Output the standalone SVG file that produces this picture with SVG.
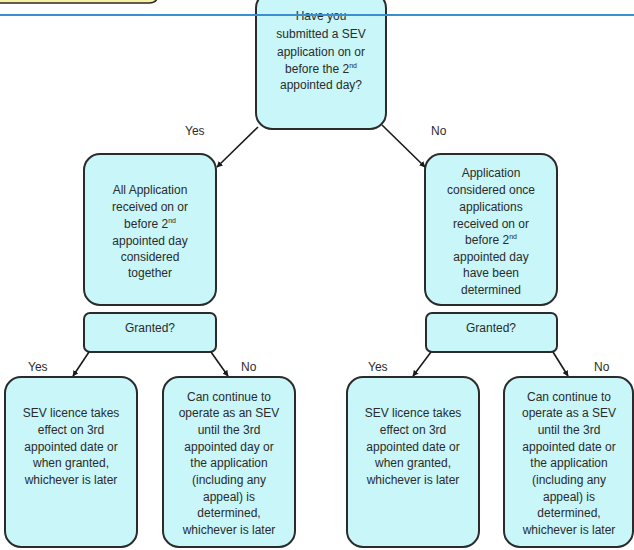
<svg xmlns="http://www.w3.org/2000/svg" width="634" height="550" viewBox="0 0 634 550">
<style>
.box{fill:#c8f6f9;stroke:#2b2b2b;stroke-width:2}
.t{font-family:"Liberation Sans",Arial,sans-serif;font-size:12px;fill:#2b2b2b;text-anchor:middle}
.sup{font-size:7px}
.lbl{font-family:"Liberation Sans",Arial,sans-serif;font-size:12px;fill:#2b2b2b}
.conn{stroke:#1a1a1a;stroke-width:1.6;fill:none;marker-end:url(#ah)}
</style>
<defs>
<marker id="ah" viewBox="0 0 10 10" refX="9" refY="5" markerWidth="6" markerHeight="6" orient="auto" markerUnits="userSpaceOnUse">
<path d="M0,0 L10,5 L0,10 Z" fill="#1a1a1a"/>
</marker>
</defs>
<rect width="634" height="550" fill="#ffffff"/>
<g id="banner">
<path d="M-2,-20 H158 V-6 Q158,3 149,3 H-2 Z" fill="#f6f1a3" stroke="#2b2b2b" stroke-width="1.5"/>
</g>
<g id="q1">
<rect class="box" x="256" y="-8" width="130" height="137" rx="16"/>
<text class="t" x="321" y="20">Have you</text>
<text class="t" x="321" y="38">submitted a SEV</text>
<text class="t" x="321" y="56">application on or</text>
<text class="t" x="321" y="73">before the 2<tspan class="sup" dy="-5">nd</tspan></text>
<text class="t" x="321" y="89">appointed day?</text>
</g>
<line x1="0" y1="15" x2="634" y2="15" stroke="#3a8fd0" stroke-width="2.2"/>
<g id="left">
<rect class="box" x="84" y="154" width="132" height="151" rx="16"/>
<text class="t" x="150" y="194">All Application</text>
<text class="t" x="150" y="211">received on or</text>
<text class="t" x="150" y="228">before 2<tspan class="sup" dy="-5">nd</tspan></text>
<text class="t" x="150" y="245">appointed day</text>
<text class="t" x="150" y="261">considered</text>
<text class="t" x="150" y="277">together</text>
</g>
<g id="right">
<rect class="box" x="425" y="154" width="132" height="151" rx="16"/>
<text class="t" x="491" y="177">Application</text>
<text class="t" x="491" y="194">considered once</text>
<text class="t" x="491" y="211">applications</text>
<text class="t" x="491" y="228">received on or</text>
<text class="t" x="491" y="244">before 2<tspan class="sup" dy="-5">nd</tspan></text>
<text class="t" x="491" y="261">appointed day</text>
<text class="t" x="491" y="277">have been</text>
<text class="t" x="491" y="294">determined</text>
</g>
<g id="granted-left">
<rect class="box" x="84" y="313" width="132" height="39" rx="6"/>
<text class="t" x="150" y="332">Granted?</text>
</g>
<g id="granted-right">
<rect class="box" x="426" y="313" width="131" height="39" rx="6"/>
<text class="t" x="491" y="332">Granted?</text>
</g>
<g id="b1">
<rect class="box" x="5" y="377" width="132" height="170" rx="16"/>
<text class="t" x="71" y="417">SEV licence takes</text>
<text class="t" x="71" y="434">effect on 3rd</text>
<text class="t" x="71" y="451">appointed date or</text>
<text class="t" x="71" y="467">when granted,</text>
<text class="t" x="71" y="484">whichever is later</text>
</g>
<g id="b2">
<rect class="box" x="163" y="377" width="132" height="170" rx="16"/>
<text class="t" x="229" y="401">Can continue to</text>
<text class="t" x="229" y="417">operate as an SEV</text>
<text class="t" x="229" y="434">until the 3rd</text>
<text class="t" x="229" y="451">appointed day or</text>
<text class="t" x="229" y="467">the application</text>
<text class="t" x="229" y="484">(including any</text>
<text class="t" x="229" y="501">appeal) is</text>
<text class="t" x="229" y="517">determined,</text>
<text class="t" x="229" y="534">whichever is later</text>
</g>
<g id="b3">
<rect class="box" x="347" y="377" width="132" height="170" rx="16"/>
<text class="t" x="413" y="417">SEV licence takes</text>
<text class="t" x="413" y="434">effect on 3rd</text>
<text class="t" x="413" y="451">appointed date or</text>
<text class="t" x="413" y="467">when granted,</text>
<text class="t" x="413" y="484">whichever is later</text>
</g>
<g id="b4">
<rect class="box" x="504" y="377" width="129" height="170" rx="16"/>
<text class="t" x="569" y="401">Can continue to</text>
<text class="t" x="569" y="417">operate as a SEV</text>
<text class="t" x="569" y="434">until the 3rd</text>
<text class="t" x="569" y="451">appointed date or</text>
<text class="t" x="569" y="467">the application</text>
<text class="t" x="569" y="484">(including any</text>
<text class="t" x="569" y="501">appeal)  is</text>
<text class="t" x="569" y="517">determined,</text>
<text class="t" x="569" y="534">whichever is later</text>
</g>
<g id="connectors">
<line class="conn" x1="258" y1="127" x2="217" y2="167"/>
<line class="conn" x1="382" y1="125" x2="425" y2="167"/>
<line class="conn" x1="89" y1="352" x2="73" y2="376"/>
<line class="conn" x1="211" y1="352" x2="228" y2="376"/>
<line class="conn" x1="431" y1="352" x2="413" y2="376"/>
<line class="conn" x1="553" y1="352" x2="568" y2="376"/>
<text class="lbl" x="185" y="135">Yes</text>
<text class="lbl" x="431" y="135">No</text>
<text class="lbl" x="28" y="371">Yes</text>
<text class="lbl" x="241" y="371">No</text>
<text class="lbl" x="368" y="371">Yes</text>
<text class="lbl" x="594" y="371">No</text>
</g>
</svg>
